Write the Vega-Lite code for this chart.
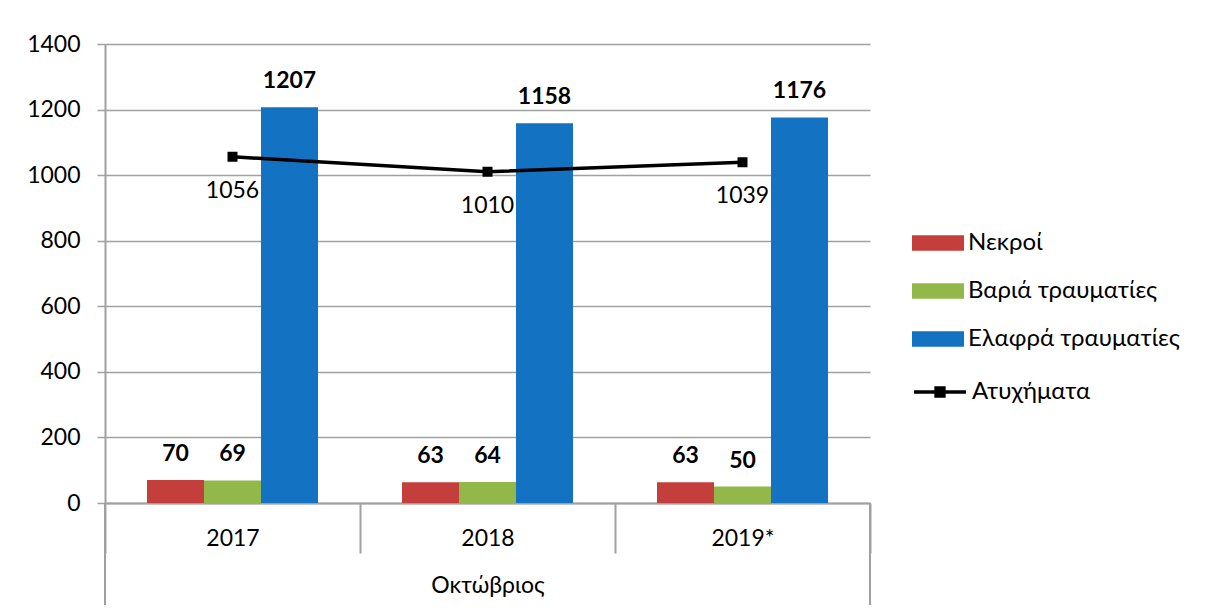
{
  "$schema": "https://vega.github.io/schema/vega-lite/v6.json",
  "width": 765,
  "height": 459,
  "autosize": {"type": "none"},
  "padding": {"left": 105, "top": 44, "right": 336, "bottom": 107},
  "background": "white",
  "config": {
    "font": "Lato",
    "view": {"stroke": null},
    "legend": {"padding": 0}
  },
  "datasets": {
    "casualties": [
      {"year": "2017", "series": "Νεκροί", "value": 70},
      {"year": "2017", "series": "Βαριά τραυματίες", "value": 69},
      {"year": "2017", "series": "Ελαφρά τραυματίες", "value": 1207},
      {"year": "2018", "series": "Νεκροί", "value": 63},
      {"year": "2018", "series": "Βαριά τραυματίες", "value": 64},
      {"year": "2018", "series": "Ελαφρά τραυματίες", "value": 1158},
      {"year": "2019*", "series": "Νεκροί", "value": 63},
      {"year": "2019*", "series": "Βαριά τραυματίες", "value": 50},
      {"year": "2019*", "series": "Ελαφρά τραυματίες", "value": 1176}
    ],
    "accidents": [
      {"year": "2017", "value": 1056},
      {"year": "2018", "value": 1010},
      {"year": "2019*", "value": 1039}
    ]
  },
  "layer": [
    {
      "data": {"name": "casualties"},
      "mark": {"type": "bar"},
      "encoding": {
        "x": {
          "field": "year", "type": "nominal", "sort": ["2017", "2018", "2019*"],
          "scale": {"paddingInner": 0, "paddingOuter": 0},
          "axis": {
            "title": "Οκτώβριος", "tickBand": "extent", "tickSize": 50, "tickColor": "#A0A0A0", "tickWidth": 2,
            "domainColor": "#A0A0A0", "domainWidth": 2, "labelAngle": 0, "labelPadding": -26, "labelBaseline": "top",
            "labelFontSize": 23, "labelColor": "black", "titleFontSize": 23, "titleFontWeight": "normal",
            "titleColor": "black", "titlePadding": 20, "grid": false
          }
        },
        "xOffset": {
          "field": "series", "type": "nominal",
          "sort": ["Νεκροί", "Βαριά τραυματίες", "Ελαφρά τραυματίες"],
          "scale": {"paddingInner": 0, "paddingOuter": 0.737}
        },
        "y": {
          "field": "value", "type": "quantitative",
          "scale": {"domain": [0, 1400]},
          "axis": {
            "title": null, "values": [0, 200, 400, 600, 800, 1000, 1200, 1400], "format": "d",
            "grid": true, "gridColor": "#A0A0A0", "gridWidth": 1.5,
            "domainColor": "#A0A0A0", "domainWidth": 2, "tickColor": "#A0A0A0", "tickWidth": 1.5, "tickSize": 8,
            "labelPadding": 17, "labelFontSize": 23, "labelColor": "black"
          }
        },
        "fill": {
          "field": "series", "type": "nominal",
          "scale": {
            "domain": ["Νεκροί", "Βαριά τραυματίες", "Ελαφρά τραυματίες"],
            "range": ["#C43E3B", "#92B84A", "#1372C1"]
          },
          "legend": {
            "title": null, "orient": "none", "legendX": 820, "legendY": 186,
            "symbolType": "M-2,-0.6H2V0.6H-2Z", "symbolSize": 676, "symbolStrokeWidth": 0,
            "labelOffset": 17, "labelFontSize": 24, "labelColor": "black", "rowPadding": 23, "labelLimit": 400
          }
        }
      }
    },
    {
      "data": {"name": "casualties"},
      "mark": {"type": "text", "dy": -19, "baseline": "alphabetic", "fontWeight": "bold", "fontSize": 23, "color": "black"},
      "encoding": {
        "x": {"field": "year", "type": "nominal", "sort": ["2017", "2018", "2019*"]},
        "xOffset": {"field": "series", "type": "nominal", "sort": ["Νεκροί", "Βαριά τραυματίες", "Ελαφρά τραυματίες"]},
        "y": {"field": "value", "type": "quantitative", "scale": {"domain": [0, 1400]}},
        "text": {"field": "value", "type": "quantitative"}
      }
    },
    {
      "data": {"name": "accidents"},
      "mark": {"type": "line", "strokeWidth": 3.5, "point": {"shape": "square", "size": 64, "filled": true, "fill": "black"}},
      "encoding": {
        "x": {"field": "year", "type": "nominal", "sort": ["2017", "2018", "2019*"]},
        "y": {"field": "value", "type": "quantitative", "scale": {"domain": [0, 1400]}},
        "stroke": {
          "datum": "Ατυχήματα",
          "scale": {"domain": ["Ατυχήματα"], "range": ["black"]},
          "legend": {
            "title": null, "orient": "none", "legendX": 820, "legendY": 333,
            "symbolType": "M-2,0H2M-0.3,-0.3H0.3V0.3H-0.3Z", "symbolSize": 676, "symbolStrokeWidth": 3.5,
            "symbolFillColor": "black", "labelOffset": 17, "labelFontSize": 24, "labelColor": "black", "labelLimit": 400
          }
        }
      }
    },
    {
      "data": {"name": "accidents"},
      "mark": {"type": "text", "dy": 34, "baseline": "middle", "fontSize": 23, "color": "black"},
      "encoding": {
        "x": {"field": "year", "type": "nominal", "sort": ["2017", "2018", "2019*"]},
        "y": {"field": "value", "type": "quantitative", "scale": {"domain": [0, 1400]}},
        "text": {"field": "value", "type": "quantitative"}
      }
    },
    {
      "data": {"values": [{"year": "2017"}]},
      "mark": {"type": "rule", "color": "#A0A0A0", "strokeWidth": 2},
      "encoding": {
        "x": {"field": "year", "type": "nominal", "bandPosition": 0, "sort": ["2017", "2018", "2019*"]},
        "y": {"datum": 0, "type": "quantitative", "scale": {"domain": [0, 1400]}},
        "y2": {"datum": -311}
      }
    },
    {
      "data": {"values": [{"year": "2019*"}]},
      "mark": {"type": "rule", "color": "#A0A0A0", "strokeWidth": 2},
      "encoding": {
        "x": {"field": "year", "type": "nominal", "bandPosition": 1, "sort": ["2017", "2018", "2019*"]},
        "y": {"datum": 0, "type": "quantitative", "scale": {"domain": [0, 1400]}},
        "y2": {"datum": -311}
      }
    }
  ]
}
